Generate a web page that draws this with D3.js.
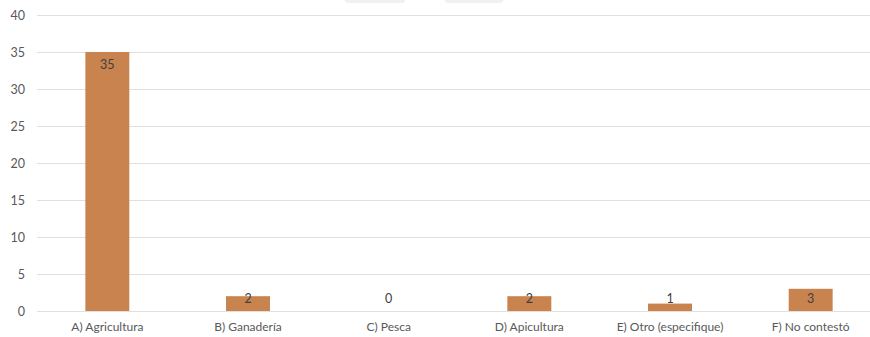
<!DOCTYPE html>
<html><head><meta charset="utf-8">
<script src="https://cdn.jsdelivr.net/npm/d3@7"></script>
<style>
html,body{margin:0;padding:0;background:#fff;}
svg{display:block;font-family:Lato,"Open Sans",sans-serif;}
</style></head>
<body>
<svg id="c" width="870" height="337"></svg>
<script>
const categories = ["A) Agricultura","B) Ganadería","C) Pesca","D) Apicultura","E) Otro (especifique)","F) No contestó"];
const values = [35, 2, 0, 2, 1, 3];
const yTicks = [0,5,10,15,20,25,30,35,40];

const svg = d3.select("#c");
const x0 = 37, x1 = 881, yTop = 15, yBot = 311;
const x = d3.scaleBand().domain(categories).range([x0, x1]).padding(0);
const y = d3.scaleLinear().domain([0, 40]).range([yBot, yTop]);
const barW = x.bandwidth() * 0.3125;

// faint legend remnants at top
svg.append("rect").attr("x",345).attr("y",-4).attr("width",60).attr("height",7).attr("rx",3).attr("fill","#f0f0f0");
svg.append("rect").attr("x",445).attr("y",-4).attr("width",58).attr("height",7).attr("rx",3).attr("fill","#f0f0f0");

// gridlines
svg.append("g").selectAll("line").data(yTicks).join("line")
  .attr("x1", x0).attr("x2", 870)
  .attr("y1", d => y(d) + 0.5).attr("y2", d => y(d) + 0.5)
  .attr("stroke", "#e0e0e0").attr("stroke-width", 1);

// y axis labels
const yAxis = d3.axisLeft(y).tickValues(yTicks).tickSize(0).tickPadding(0);
const gy = svg.append("g").attr("transform", "translate(25,0)").call(yAxis);
gy.select(".domain").remove();
gy.selectAll("text").attr("fill","#595959").style("font-size","12.5px").style("font-family","Lato,'Open Sans',sans-serif");

// bars
svg.append("g").selectAll("rect").data(values).join("rect")
  .attr("x", (d,i) => x(categories[i]) + (x.bandwidth()-barW)/2)
  .attr("y", d => y(d))
  .attr("width", barW)
  .attr("height", d => yBot - y(d))
  .attr("fill", "#c8834e");

// value labels
svg.append("g").selectAll("text").data(values).join("text")
  .attr("x", (d,i) => x(categories[i]) + x.bandwidth()/2)
  .attr("y", d => Math.min(y(d) + 12.5, yBot - 12))
  .attr("dy", "0.35em")
  .attr("text-anchor", "middle")
  .attr("fill", "#404040")
  .style("font-size", "12.5px")
  .text(d => d);

// x axis labels
const xAxis = d3.axisBottom(x).tickSize(0).tickPadding(0);
const gx = svg.append("g").attr("transform", `translate(0,${yBot+11})`).call(xAxis);
gx.select(".domain").remove();
gx.selectAll("text").attr("fill","#595959").style("font-size","12px").style("font-family","Lato,'Open Sans',sans-serif");
</script>
</body></html>
